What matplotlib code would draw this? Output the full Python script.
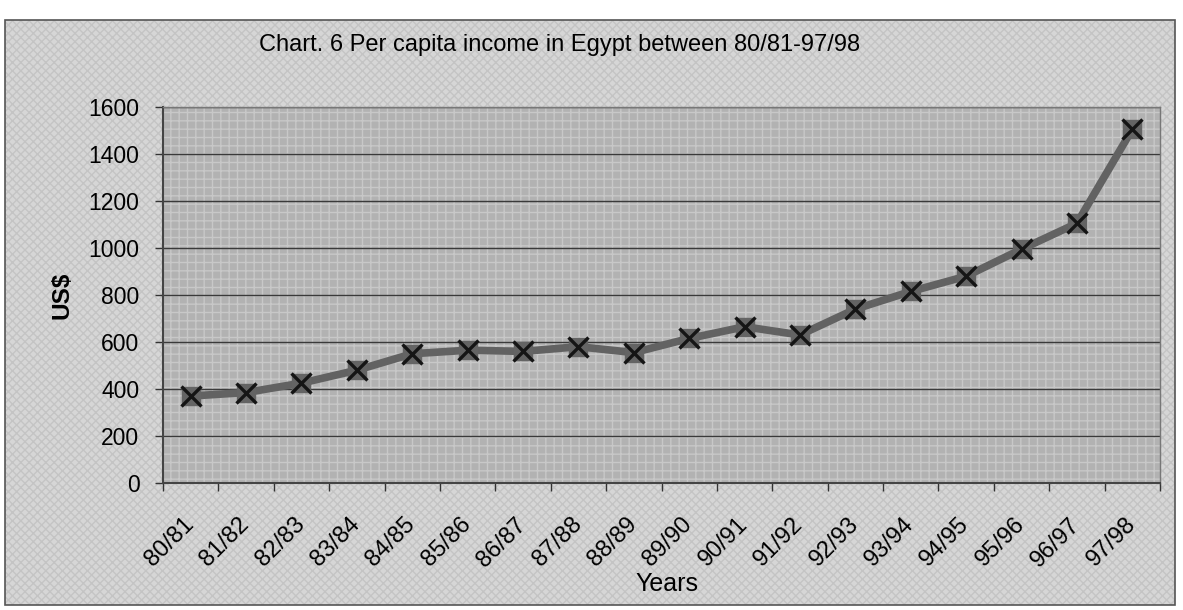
import matplotlib
matplotlib.use("Agg")
import matplotlib.pyplot as plt
from matplotlib.patches import Rectangle
from matplotlib.transforms import ScaledTranslation
import numpy as np

plt.rcParams['font.family'] = ['Liberation Sans', 'DejaVu Sans']

years = ["80/81", "81/82", "82/83", "83/84", "84/85", "85/86", "86/87", "87/88", "88/89",
         "89/90", "90/91", "91/92", "92/93", "93/94", "94/95", "95/96", "96/97", "97/98"]
income = [370, 385, 425, 480, 550, 565, 560, 580, 555,
          615, 665, 630, 740, 815, 880, 995, 1105, 1505]
yticks = [0, 200, 400, 600, 800, 1000, 1200, 1400, 1600]

fig = plt.figure(figsize=(11.83, 6.1), dpi=100)
fig.patch.set_facecolor('white')

# outer chart area with hatched light-gray background
bg = Rectangle((5/1183, 5/610), 1170/1183, 585/610, transform=fig.transFigure,
               facecolor='#d6d6d6', edgecolor='#c4c4c4', hatch='xxxx', linewidth=0, zorder=-2)
fig.patches.append(bg)
border = Rectangle((5/1183, 5/610), 1170/1183, 585/610, transform=fig.transFigure,
                   facecolor='none', edgecolor='#555555', linewidth=1.2, zorder=-1)
fig.patches.append(border)

ax = fig.add_axes([163/1183, 1 - 483/610, 997/1183, 376/610])
ax.set_zorder(2)
ax.set_facecolor('#b2b2b2')
ax.add_patch(Rectangle((0, 0), 1, 1, transform=ax.transAxes, facecolor='none',
                       edgecolor='#c8c8c8', hatch='++', linewidth=0, zorder=0))

x = np.arange(len(years))
ax.set_xlim(-0.5, len(years) - 0.5)
ax.set_ylim(0, 1600)
ax.set_yticks(yticks)
ax.set_yticklabels([str(v) for v in yticks], fontsize=16.5)
ax.yaxis.grid(True, color='#3a3a3a', linewidth=1.0, zorder=1)
ax.set_axisbelow(True)

ax.plot(x, income, color='#626262', linewidth=5.5, zorder=3, solid_capstyle='round')
ax.plot(x, income, linestyle='none', marker='s', markersize=12.5, markerfacecolor='#646464',
        markeredgecolor='#646464', zorder=4)
ax.plot(x, income, linestyle='none', marker='x', markersize=14.5, markeredgewidth=2.4,
        color='#151515', zorder=5)

ax.set_xticks(x)
ax.set_xticklabels(years, rotation=45, ha='right', va='top', rotation_mode='anchor',
                   fontsize=17)
ax.set_xticks(np.arange(-0.5, len(years)), minor=True)
ax.tick_params(axis='x', which='major', length=0, pad=22)
ax.tick_params(axis='x', which='minor', length=6, width=1, color='#333333')
ax.tick_params(axis='y', length=6, width=1, color='#333333', pad=11)

for s in ['left', 'bottom']:
    ax.spines[s].set_color('#444444')
    ax.spines[s].set_linewidth(1.5)
for s in ['top', 'right']:
    ax.spines[s].set_color('#777777')
    ax.spines[s].set_linewidth(1.0)

ax.set_ylabel('US$', fontsize=17.5, fontweight='bold')
ax.yaxis.set_label_coords(-90/997, 0.5)
ax.set_xlabel('Years', fontsize=18)
ax.xaxis.set_label_coords(0.505, -0.238)

fig.text(560/1183, 1 - 45/610, 'Chart. 6 Per capita income in Egypt between 80/81-97/98',
         ha='center', va='center', fontsize=17)

offset = ScaledTranslation(-8/100, 0, fig.dpi_scale_trans)
for lbl in ax.get_xticklabels():
    lbl.set_transform(lbl.get_transform() + offset)

fig.savefig('out.png', dpi=100, facecolor=fig.get_facecolor())
